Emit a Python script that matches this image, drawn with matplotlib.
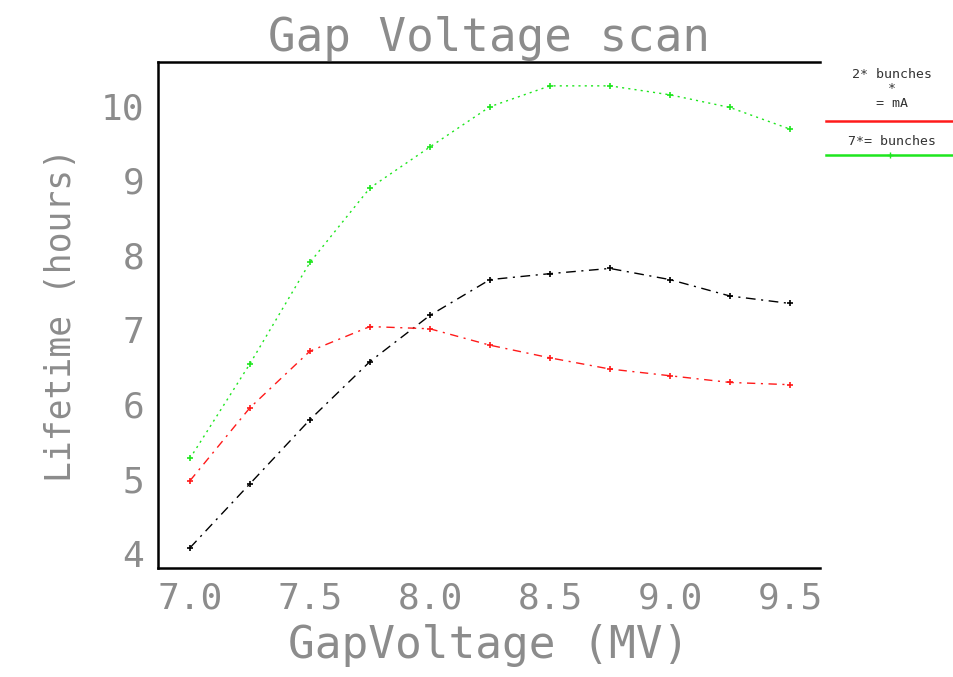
import matplotlib
matplotlib.use("Agg")
import matplotlib.pyplot as plt
from matplotlib.lines import Line2D

# Gap voltage scan: beam lifetime vs. RF gap voltage
gap_voltage = [7.0, 7.25, 7.5, 7.75, 8.0, 8.25, 8.5, 8.75, 9.0, 9.25, 9.5]
lifetime_black = [4.07, 4.93, 5.79, 6.57, 7.19, 7.67, 7.75, 7.82, 7.67, 7.45, 7.35]
lifetime_red = [4.97, 5.95, 6.71, 7.04, 7.01, 6.79, 6.62, 6.47, 6.38, 6.29, 6.26]
lifetime_green = [5.27, 6.54, 7.90, 8.90, 9.45, 9.99, 10.27, 10.27, 10.15, 9.98, 9.69]

xtick_values = [7.0, 7.5, 8.0, 8.5, 9.0, 9.5]
xtick_labels = ["7.0", "7.5", "8.0", "8.5", "9.0", "9.5"]
ytick_values = [4, 5, 6, 7, 8, 9, 10]
ytick_labels = ["4", "5", "6", "7", "8", "9", "10"]

legend_red = "2* bunches\n*\n= mA"
legend_green = "7*= bunches"

title = "Gap Voltage scan"
xlabel = "GapVoltage (MV)"
ylabel = "Lifetime (hours)"

mono = "DejaVu Sans Mono"
text_color = "#8c8c8c"

fig = plt.figure(figsize=(9.54, 6.77), dpi=100)
ax = fig.add_axes([0.1656, 0.161, 0.6939, 0.7474])

ax.plot(gap_voltage, lifetime_black, color="black", lw=1.0,
        ls=(0, (7, 4, 1.5, 4)), marker="+", ms=5, mew=1.2)
ax.plot(gap_voltage, lifetime_red, color="#ff1a1a", lw=1.0,
        ls=(0, (6, 4, 1.5, 4)), marker="+", ms=5, mew=1.2)
ax.plot(gap_voltage, lifetime_green, color="#1ee61e", lw=1.0,
        ls=(0, (1.5, 3)), marker="+", ms=5, mew=1.2)

ax.set_xlim(6.867, 9.625)
ax.set_ylim(3.80, 10.59)

# tick labels at every half volt, tick marks only at 7.5, 8.5, 9.5
ax.set_xticks(xtick_values)
ax.set_xticklabels(xtick_labels, family=mono, fontsize=26, color=text_color)
ax.tick_params(axis="x", which="major", length=0, pad=10)
ax.set_xticks([7.5, 8.5, 9.5], minor=True)
ax.tick_params(axis="x", which="minor", direction="in", length=9, width=1.5,
               top=True, bottom=True)

ax.set_yticks(ytick_values)
ax.set_yticklabels(ytick_labels, family=mono, fontsize=26, color=text_color)
ax.tick_params(axis="y", length=0, pad=10)

for side in ("left", "top", "bottom"):
    ax.spines[side].set_linewidth(1.8)
ax.spines["right"].set_visible(False)

ax.set_title(title, family=mono, fontsize=33, color=text_color, pad=8)
ax.set_xlabel(xlabel, family=mono, fontsize=32, color=text_color, labelpad=6)
ax.set_ylabel(ylabel, family=mono, fontsize=25, color=text_color, labelpad=16)

# key to the right of the plot: title text above each sample line
fig.text(0.935, 0.9, legend_red, family=mono, fontsize=9.5, color="#333333",
         ha="center", va="top", linespacing=1.15)
fig.add_artist(Line2D([0.866, 1.0], [0.822, 0.822], color="#ff1a1a", lw=1.8,
                      transform=fig.transFigure))
fig.text(0.935, 0.8, legend_green, family=mono, fontsize=9.5, color="#333333",
         ha="center", va="top")
fig.add_artist(Line2D([0.866, 1.0], [0.771, 0.771], color="#1ee61e", lw=1.8,
                      transform=fig.transFigure))
fig.add_artist(Line2D([0.933], [0.771], color="#1ee61e", marker="+", ms=5,
                      transform=fig.transFigure))

fig.savefig("out.png", dpi=100)
